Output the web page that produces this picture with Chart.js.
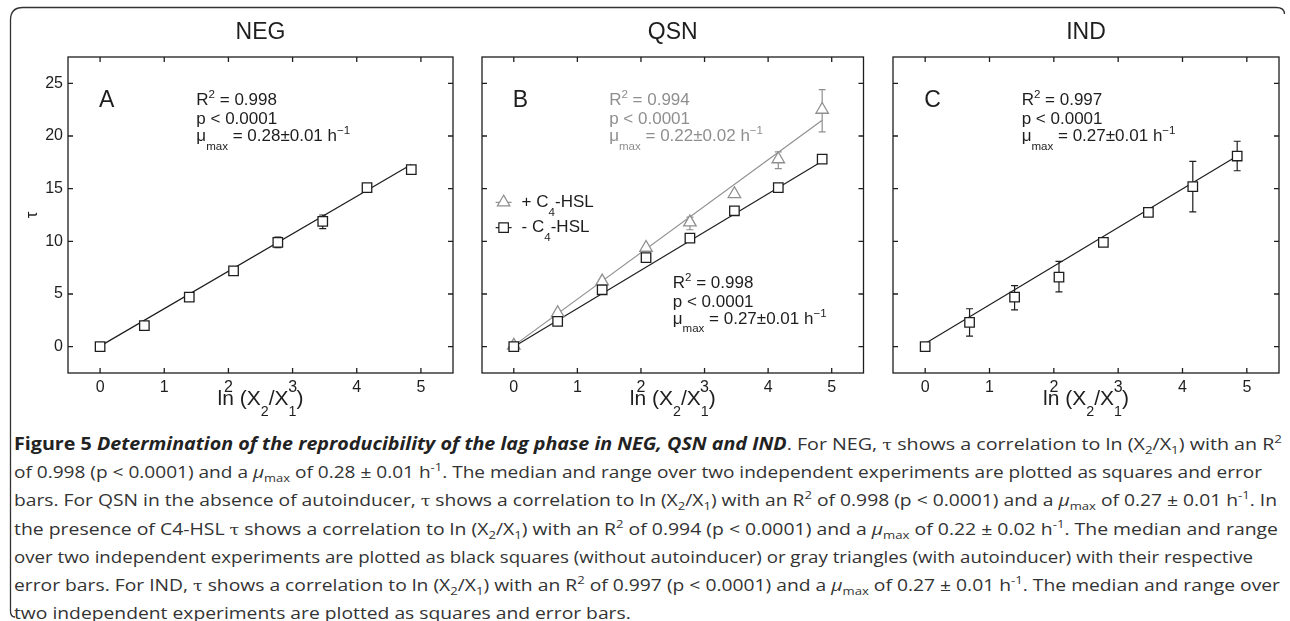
<!DOCTYPE html>
<html>
<head>
<meta charset="utf-8">
<script src="https://cdn.jsdelivr.net/npm/chart.js@4.4.1/dist/chart.umd.min.js"></script>
<style>
  body { margin: 0; background: #fff; width: 1290px; height: 621px; overflow: hidden; position: relative; }
  canvas.panel { position: absolute; top: 0; }
  #frame { position: absolute; left: 0; top: 0; }
  .cap { position: absolute; left: 14px; height: 24px; line-height: 24px; white-space: nowrap;
         font-family: "Open Sans", sans-serif; font-size: 17px; color: #333; transform-origin: 0 50%; }
  .cap sub, .cap sup { font-size: 0.68em; line-height: 0; }
  .cap b { color: #222; }
  .tau { font-family: "DejaVu Serif", serif; font-size: 0.9em; }
</style>
</head>
<body>
<svg id="frame" width="1290" height="621">
  <path d="M15 617 Q10.5 617 10.5 611 L10.5 20 Q10.5 7.5 23 7.5 L1276 7.5 Q1284.5 7.5 1284.5 14"
        fill="none" stroke="#333" stroke-width="1.3"/>
</svg>
<canvas class="panel" id="negChart" width="462" height="420" style="left:0px"></canvas>
<canvas class="panel" id="qsnChart" width="410" height="420" style="left:462px"></canvas>
<canvas class="panel" id="indChart" width="418" height="420" style="left:872px"></canvas>

<div class="cap" id="cap0"><b>Figure 5 <i>Determination of the reproducibility of the lag phase in NEG, QSN and IND</i></b>. For NEG, <span class="tau">τ</span> shows a correlation to ln (X<sub>2</sub>/X<sub>1</sub>) with an R<sup>2</sup></div>
<div class="cap" id="cap1">of 0.998 (p &lt; 0.0001) and a <i>μ</i><sub>max</sub> of 0.28 ± 0.01 h<sup>-1</sup>. The median and range over two independent experiments are plotted as squares and error</div>
<div class="cap" id="cap2">bars. For QSN in the absence of autoinducer, <span class="tau">τ</span> shows a correlation to ln (X<sub>2</sub>/X<sub>1</sub>) with an R<sup>2</sup> of 0.998 (p &lt; 0.0001) and a <i>μ</i><sub>max</sub> of 0.27 ± 0.01 h<sup>-1</sup>. In</div>
<div class="cap" id="cap3">the presence of C4-HSL <span class="tau">τ</span> shows a correlation to ln (X<sub>2</sub>/X<sub>1</sub>) with an R<sup>2</sup> of 0.994 (p &lt; 0.0001) and a <i>μ</i><sub>max</sub> of 0.22 ± 0.02 h<sup>-1</sup>. The median and range</div>
<div class="cap" id="cap4">over two independent experiments are plotted as black squares (without autoinducer) or gray triangles (with autoinducer) with their respective</div>
<div class="cap" id="cap5">error bars. For IND, <span class="tau">τ</span> shows a correlation to ln (X<sub>2</sub>/X<sub>1</sub>) with an R<sup>2</sup> of 0.997 (p &lt; 0.0001) and a <i>μ</i><sub>max</sub> of 0.27 ± 0.01 h<sup>-1</sup>. The median and range over</div>
<div class="cap" id="cap6">two independent experiments are plotted as squares and error bars.</div>

<script>
// x = ln(X2/X1) for 2, 4, 8 ... 128 fold
var lnRatio = [0, 0.69, 1.39, 2.08, 2.77, 3.47, 4.16, 4.85];
var fitX = [0, 4.85];
var xTicks = [0, 1, 2, 3, 4, 5];
var yTicks = [0, 5, 10, 15, 20, 25];

// NEG
var negTau = [0, 2.0, 4.7, 7.2, 9.9, 11.9, 15.1, 16.8];
var negLow = [0, 2.0, 4.7, 7.2, 9.4, 11.2, 15.1, 16.8];
var negHigh = [0, 2.0, 4.7, 7.2, 10.4, 12.5, 15.1, 16.8];
var negFit = [0.05, 17.3];

// QSN, + C4-HSL (gray triangles) and - C4-HSL (black squares)
var qsnPlusTau = [0.1, 3.2, 6.2, 9.4, 11.8, 14.5, 17.8, 22.5];
var qsnPlusLow = [0.1, 3.2, 6.2, 9.4, 11.1, 14.5, 16.9, 20.4];
var qsnPlusHigh = [0.1, 3.2, 6.2, 9.4, 12.3, 14.5, 18.5, 24.4];
var qsnPlusFit = [0.1, 21.5];
var qsnMinusTau = [0, 2.4, 5.4, 8.45, 10.3, 12.9, 15.1, 17.8];
var qsnMinusFit = [0, 17.6];

// IND
var indTau = [0, 2.3, 4.7, 6.6, 9.9, 12.75, 15.2, 18.1];
var indLow = [0, 1.0, 3.5, 5.2, 9.9, 12.6, 12.8, 16.7];
var indHigh = [0, 3.6, 5.8, 8.1, 9.9, 12.9, 17.6, 19.5];
var indFit = [0.3, 18.1];

var BLACK = '#1e1e1e';
var GRAY = '#8f8f8f';
var FONT = '"Liberation Sans", Arial, sans-serif';

function pts(xs, ys) {
  return xs.map(function (x, i) { return { x: x, y: ys[i] }; });
}

// vertical range bars, drawn under the markers
var errorBars = {
  id: 'errorBars',
  beforeDatasetsDraw: function (chart) {
    var ctx = chart.ctx, xs = chart.scales.x, ys = chart.scales.y;
    chart.data.datasets.forEach(function (ds) {
      if (!ds.errLow) return;
      ctx.save();
      ctx.strokeStyle = ds.borderColor;
      ctx.lineWidth = 1.2;
      ctx.beginPath();
      ds.data.forEach(function (p, i) {
        var lo = ds.errLow[i], hi = ds.errHigh[i];
        if (hi === lo) return;
        var px = xs.getPixelForValue(p.x);
        var y1 = ys.getPixelForValue(lo), y2 = ys.getPixelForValue(hi);
        ctx.moveTo(px, y1); ctx.lineTo(px, y2);
        ctx.moveTo(px - 3.5, y1); ctx.lineTo(px + 3.5, y1);
        ctx.moveTo(px - 3.5, y2); ctx.lineTo(px + 3.5, y2);
      });
      ctx.stroke();
      ctx.restore();
    });
  }
};

// matlab style box with inward ticks on all four sides
var boxTicks = {
  id: 'boxTicks',
  afterDatasetsDraw: function (chart) {
    var a = chart.chartArea, ctx = chart.ctx, xs = chart.scales.x, ys = chart.scales.y;
    ctx.save();
    ctx.strokeStyle = BLACK;
    ctx.lineWidth = 1.3;
    ctx.strokeRect(a.left, a.top, a.right - a.left, a.bottom - a.top);
    ctx.beginPath();
    xs.ticks.forEach(function (t) {
      var p = xs.getPixelForValue(t.value);
      ctx.moveTo(p, a.bottom); ctx.lineTo(p, a.bottom - 5);
      ctx.moveTo(p, a.top); ctx.lineTo(p, a.top + 5);
    });
    ys.ticks.forEach(function (t) {
      var p = ys.getPixelForValue(t.value);
      ctx.moveTo(a.left, p); ctx.lineTo(a.left + 5, p);
      ctx.moveTo(a.right, p); ctx.lineTo(a.right - 5, p);
    });
    ctx.stroke();
    ctx.restore();
  }
};

// text with sub / superscripts
function drawSegs(ctx, segs, x, y, size, color, align) {
  var parts = segs.map(function (s) {
    var mode = s[1] || '';
    var fs = mode ? size * 0.68 : size;
    ctx.font = fs + 'px ' + FONT;
    return { t: s[0], fs: fs, w: ctx.measureText(s[0]).width,
             dy: mode === 'sub' ? size * 0.6 : (mode === 'sup' ? -size * 0.3 : 0) };
  });
  var total = parts.reduce(function (a, p) { return a + p.w; }, 0);
  var cx = align === 'center' ? x - total / 2 : x;
  ctx.fillStyle = color;
  ctx.textAlign = 'left';
  ctx.textBaseline = 'middle';
  parts.forEach(function (p) {
    ctx.font = p.fs + 'px ' + FONT;
    ctx.fillText(p.t, cx, y + p.dy);
    cx += p.w;
  });
}

var figText = {
  id: 'figText',
  afterDraw: function (chart, args, opt) {
    var ctx = chart.ctx, a = chart.chartArea, xs = chart.scales.x, ys = chart.scales.y;
    var mid = (a.left + a.right) / 2;
    ctx.save();
    drawSegs(ctx, [[opt.title]], mid, 33, 23, BLACK, 'center');
    drawSegs(ctx, [[opt.letter]], xs.getPixelForValue(0) - 1, ys.getPixelForValue(23.4), 23, BLACK);
    drawSegs(ctx, [['ln (X'], ['2', 'sub'], ['/X'], ['1', 'sub'], [')']], mid, a.bottom + 26.5, 21, BLACK, 'center');
    if (opt.yTitle) {
      ctx.save();
      ctx.translate(a.left - 36, (a.top + a.bottom) / 2);
      ctx.rotate(-Math.PI / 2);
      drawSegs(ctx, [[opt.yTitle]], 0, 0, 17, BLACK, 'center');
      ctx.restore();
    }
    (opt.notes || []).forEach(function (n) {
      var px = xs.getPixelForValue(n.x);
      drawSegs(ctx, [['R'], ['2', 'sup'], [' = ' + n.r2]], px, ys.getPixelForValue(n.y), 17, n.color);
      drawSegs(ctx, [['p < 0.0001']], px, ys.getPixelForValue(n.y) + 19, 17, n.color);
      drawSegs(ctx, [['μ'], ['max', 'sub'], [' = ' + n.mu + ' h'], ['−1', 'sup']], px, ys.getPixelForValue(n.y) + 36, 17, n.color);
    });
    (opt.legend || []).forEach(function (l) {
      var ds = chart.data.datasets[l.dataset];
      var px = xs.getPixelForValue(l.x), py = ys.getPixelForValue(l.y);
      ctx.strokeStyle = ds.borderColor;
      ctx.lineWidth = 1.2;
      ctx.beginPath(); ctx.moveTo(px - 8, py); ctx.lineTo(px + 8, py); ctx.stroke();
      ctx.fillStyle = '#fff';
      Chart.helpers.drawPoint(ctx, { pointStyle: ds.pointStyle, radius: ds.pointRadius, rotation: 0, borderWidth: 1.3 }, px, py);
      drawSegs(ctx, l.segs, px + 18, py, 17, BLACK);
    });
    ctx.restore();
  }
};

function markerSet(xs, ys, style, color, low, high) {
  return {
    type: 'scatter', data: pts(xs, ys), pointStyle: style, pointRadius: style === 'rect' ? 6.7 : 7.2,
    borderColor: color, backgroundColor: '#fff', borderWidth: 1.3, showLine: false,
    errLow: low, errHigh: high
  };
}
function fitSet(ys, color) {
  return {
    type: 'line', data: pts(fitX, ys), borderColor: color, borderWidth: 1.2,
    pointRadius: 0, fill: false, tension: 0
  };
}

function makePanel(id, datasets, yWidth, padRight, showY, text) {
  return new Chart(document.getElementById(id), {
    type: 'scatter',
    data: { datasets: datasets },
    options: {
      responsive: false, animation: false,
      layout: { padding: { left: 0, right: padRight, top: 57, bottom: 0 } },
      plugins: { legend: { display: false }, tooltip: { enabled: false }, figText: text },
      scales: {
        x: {
          type: 'linear', min: -0.5, max: 5.5,
          afterBuildTicks: function (s) { s.ticks = xTicks.map(function (v) { return { value: v }; }); },
          afterFit: function (s) { s.height = 47; },
          grid: { display: false, drawTicks: false }, border: { display: false },
          ticks: { padding: 5, color: BLACK, font: { family: FONT, size: 16 } }
        },
        y: {
          type: 'linear', min: -2.5, max: 27.5,
          afterBuildTicks: function (s) { s.ticks = yTicks.map(function (v) { return { value: v }; }); },
          afterFit: function (s) { s.width = yWidth; },
          grid: { display: false, drawTicks: false }, border: { display: false },
          ticks: { display: showY, padding: 5, color: BLACK, font: { family: FONT, size: 16 } }
        }
      }
    },
    plugins: [errorBars, boxTicks, figText]
  });
}

makePanel('negChart', [
  markerSet(lnRatio, negTau, 'rect', BLACK, negLow, negHigh),
  fitSet(negFit, BLACK)
], 68, 9, true, {
  title: 'NEG', letter: 'A', yTitle: 'τ',
  notes: [{ x: 1.5, y: 23.4, r2: '0.998', mu: '0.28±0.01', color: BLACK }]
});

makePanel('qsnChart', [
  markerSet(lnRatio, qsnMinusTau, 'rect', BLACK),
  markerSet(lnRatio, qsnPlusTau, 'triangle', GRAY, qsnPlusLow, qsnPlusHigh),
  fitSet(qsnMinusFit, BLACK),
  fitSet(qsnPlusFit, GRAY)
], 20, 5, false, {
  title: 'QSN', letter: 'B',
  notes: [
    { x: 1.5, y: 23.4, r2: '0.994', mu: '0.22±0.02', color: GRAY },
    { x: 2.5, y: 6.05, r2: '0.998', mu: '0.27±0.01', color: BLACK }
  ],
  legend: [
    { dataset: 1, x: -0.16, y: 13.7, segs: [['+ C'], ['4', 'sub'], ['-HSL']] },
    { dataset: 0, x: -0.16, y: 11.3, segs: [['- C'], ['4', 'sub'], ['-HSL']] }
  ]
});

makePanel('indChart', [
  markerSet(lnRatio, indTau, 'rect', BLACK, indLow, indHigh),
  fitSet(indFit, BLACK)
], 21, 11, false, {
  title: 'IND', letter: 'C',
  notes: [{ x: 1.5, y: 23.4, r2: '0.997', mu: '0.27±0.01', color: BLACK }]
});

// caption lines: fit each to the measured line length
var capEnds = [1282, 1262, 1277, 1278, 1253, 1280, 0];
var lastScale = 1;
capEnds.forEach(function (end, i) {
  var el = document.getElementById('cap' + i);
  el.style.top = (444 + 28.2 * i - 12) + 'px';
  var w = el.getBoundingClientRect().width;
  var k = end ? (end - 14) / w : lastScale;
  lastScale = k;
  el.style.transform = 'scaleX(' + k + ')';
});
</script>
</body>
</html>
